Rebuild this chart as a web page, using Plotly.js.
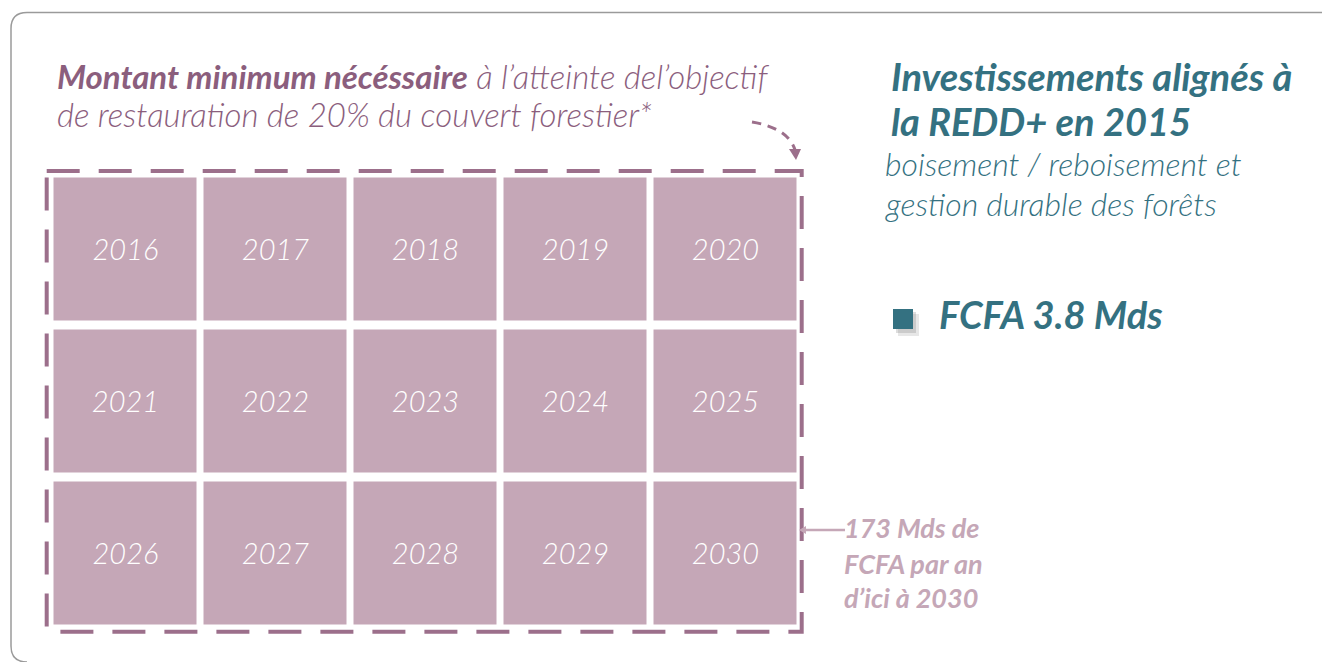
<!DOCTYPE html>
<html>
<head>
<meta charset="utf-8">
<script src="https://cdn.plot.ly/plotly-3.0.1.min.js"></script>
<style>html,body{margin:0;padding:0;background:#fff;}#chart{width:1322px;height:662px;}</style>
</head>
<body>
<div id="chart"></div>
<script>
// ---- data ----
const years = [2016, 2017, 2018, 2019, 2020, 2021, 2022, 2023, 2024, 2025, 2026, 2027, 2028, 2029, 2030];
const nCols = 5;
const leftTitleBold = "Montant minimum nécéssaire";
const leftTitleRest = " à l’atteinte del’objectif";
const leftTitleLine2 = "de restauration de 20% du couvert forestier*";
const rightTitle = ["Investissements alignés à", "la REDD+ en 2015"];
const rightSubtitle = ["boisement / reboisement et", "gestion durable des forêts"];
const investValue = "FCFA 3.8 Mds";
const requiredLabel = ["173 Mds de", "FCFA par an", "d’ici à 2030"];

// ---- build grid ----
const nRows = Math.ceil(years.length / nCols);
const z = [], txt = [];
for (let r = 0; r < nRows; r++) {
  z.push([]); txt.push([]);
  for (let c = 0; c < nCols; c++) {
    const y = years[r * nCols + c];
    z[r].push(1);
    txt[r].push(String(y));
  }
}

const W = 1322, H = 662;
const px = x => x / W;
const py = y => 1 - y / H;

const cellColor = "#c5a7b7";
const dashColor = "#9c6f8b";
const purpleText = "#8b5e7d";
const teal = "#347181";
const FONT = "Lato, 'Open Sans', sans-serif";

const trace = {
  type: "heatmap",
  z: z,
  text: txt,
  texttemplate: "%{text}",
  textfont: {family: FONT, size: 29, color: "#ffffff", style: "italic", weight: 300},
  colorscale: [[0, cellColor], [1, cellColor]],
  showscale: false,
  xgap: 7,
  ygap: 9,
  hoverinfo: "skip"
};

const shapes = [
  // outer rounded frame
  {type: "path", xref: "paper", yref: "paper",
   path: `M ${px(1330)},${py(12.5)} L ${px(27)},${py(12.5)} Q ${px(11)},${py(12.5)} ${px(11)},${py(28.5)} L ${px(11)},${py(646)} Q ${px(11)},${py(662)} ${px(27)},${py(662)}`,
   line: {color: "#9a9a9a", width: 1.5}},
  // dashed frame
  {type: "rect", xref: "paper", yref: "paper",
   x0: px(46.7), x1: px(801.7), y0: py(171), y1: py(631.7),
   line: {color: dashColor, width: 4, dash: "33px,19px"}},
  // curved dashed arrow
  {type: "path", xref: "paper", yref: "paper",
   path: `M ${px(752)},${py(122)} Q ${px(788)},${py(128)} ${px(795)},${py(150)}`,
   line: {color: dashColor, width: 3, dash: "9px,7px"}},
  {type: "path", xref: "paper", yref: "paper",
   path: `M ${px(789)},${py(149)} L ${px(801)},${py(149)} L ${px(796)},${py(160)} Z`,
   fillcolor: dashColor, line: {color: dashColor, width: 0}},
  // pointer line to 173 Mds label
  {type: "line", xref: "paper", yref: "paper",
   x0: px(803), x1: px(845), y0: py(530), y1: py(530),
   line: {color: cellColor, width: 2.5}},
  {type: "path", xref: "paper", yref: "paper",
   path: `M ${px(799)},${py(530)} L ${px(806)},${py(526)} L ${px(806)},${py(534)} Z`,
   fillcolor: cellColor, line: {color: cellColor, width: 0}},
  // legend square shadow + square
  {type: "rect", xref: "paper", yref: "paper",
   x0: px(898), x1: px(919), y0: py(314), y1: py(336),
   fillcolor: "rgba(120,120,120,0.18)", line: {width: 0}},
  {type: "rect", xref: "paper", yref: "paper",
   x0: px(896), x1: px(916), y0: py(312), y1: py(333),
   fillcolor: "rgba(120,120,120,0.25)", line: {width: 0}},
  {type: "rect", xref: "paper", yref: "paper",
   x0: px(893), x1: px(913), y0: py(309), y1: py(329),
   fillcolor: teal, line: {width: 0}}
];

function ann(text, x, y, size, color, weight, extra) {
  return Object.assign({
    xref: "paper", yref: "paper", x: px(x), y: py(y),
    xanchor: "left", yanchor: "middle", showarrow: false,
    text: text, align: "left",
    font: {family: FONT, size: size, color: color, style: "italic", weight: weight}
  }, extra || {});
}

const annotations = [
  ann(`<b>${leftTitleBold}</b>${leftTitleRest}`, 55, 76, 33, purpleText, 300),
  ann(leftTitleLine2, 55, 114, 33, purpleText, 300),
  ann(`<b>${rightTitle[0]}</b>`, 889, 76, 38, teal, 700),
  ann(`<b>${rightTitle[1]}</b>`, 889, 121, 38, teal, 700),
  ann(rightSubtitle[0], 883, 164, 32, teal, 300),
  ann(rightSubtitle[1], 883, 203, 32, teal, 300),
  ann(`<b>${investValue}</b>`, 937, 314, 38, teal, 700),
  ann(`<b>${requiredLabel[0]}</b>`, 842, 527, 27, cellColor, 700),
  ann(`<b>${requiredLabel[1]}</b>`, 842, 563, 27, cellColor, 700),
  ann(`<b>${requiredLabel[2]}</b>`, 842, 597, 27, cellColor, 700)
];

const layout = {
  width: W, height: H,
  margin: {l: 0, r: 0, t: 0, b: 0},
  paper_bgcolor: "#ffffff",
  plot_bgcolor: "rgba(0,0,0,0)",
  showlegend: false,
  xaxis: {domain: [px(50.5), px(800.5)], range: [-0.5, nCols - 0.5], visible: false, fixedrange: true},
  yaxis: {domain: [py(629), py(173.5)], range: [nRows - 0.5, -0.5], visible: false, fixedrange: true},
  shapes: shapes,
  annotations: annotations
};

Plotly.newPlot("chart", [trace], layout, {displayModeBar: false, staticPlot: true});
</script>
</body>
</html>
